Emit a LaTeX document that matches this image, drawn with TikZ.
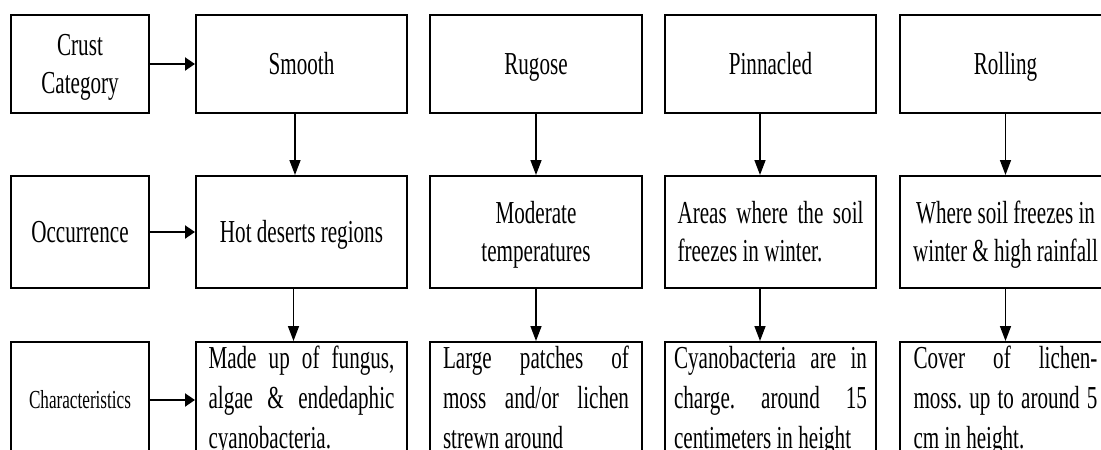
\documentclass[tikz,border=0pt]{standalone}
\usepackage{fontspec}
\setmainfont[FakeStretch=0.66]{Liberation Serif}
\usetikzlibrary{arrows.meta}
\frenchspacing
\newcommand\jl[2][186pt]{\makebox[#1][s]{#2}}
\newcommand\lastl[2][186pt]{\makebox[#1][l]{#2}}
\begin{document}
\begin{tikzpicture}[x=1pt,y=-1pt,
  box/.style={draw,line width=2pt,anchor=north west,inner sep=0pt,
    font=\fontsize{32}{38}\selectfont\frenchspacing,align=center},
  lab/.style={box,minimum width=138pt},
  cbox/.style={box,minimum width=211pt},
  one/.style={text height=21pt,text depth=0pt},
  two/.style={text height=59pt,text depth=0pt},
  jbox/.style={box,minimum width=211pt,align=left,inner ysep=5pt,
    font=\fontsize{32}{40}\selectfont\frenchspacing,text height=101.2pt,text depth=6pt},
  harrow/.style={line width=2pt,-{Triangle[length=10pt,width=13pt]}},
  varrow/.style={line width=1.5pt,-{Triangle[length=15pt,width=11pt]}}]
\useasboundingbox (0,0) rectangle (1101,450);
\clip (0,0) rectangle (1101,450);
\fill[white] (0,0) rectangle (1101,450);
% row 1
\node[lab,two,minimum height=98pt] (c1) at (10,14) {Crust\\Category};
\node[cbox,one,minimum height=98pt] (s1) at (195,14) {Smooth};
\node[cbox,one,minimum width=212pt,minimum height=98pt] (r1) at (429,14) {Rugose};
\node[cbox,one,minimum height=98pt] (p1) at (664,14) {Pinnacled};
\node[cbox,one,minimum height=98pt] (l1) at (899,14) {Rolling};
% row 2
\node[lab,one,minimum height=112pt] (c2) at (10,175) {Occurrence};
\node[cbox,one,minimum height=112pt] (s2) at (195,175) {Hot deserts regions};
\node[cbox,two,minimum width=212pt,minimum height=112pt] (r2) at (429,175) {Moderate\\temperatures};
\node[cbox,two,align=left,minimum height=112pt] (p2) at (664,175) {\jl{Areas where the soil}\\\lastl{freezes in winter.}};
\node[cbox,two,minimum height=112pt] (l2) at (899,175) {Where soil freezes in\\winter \& high rainfall};
% row 3
\node[lab,minimum height=116pt,font=\fontsize{26}{30}\selectfont,text height=17pt,text depth=0pt] (c3) at (10,341) {Characteristics};
\node[jbox] (s3) at (195,341) {\jl{Made up of fungus,}\\\jl{algae \& endedaphic}\\\lastl{cyanobacteria.}};
\node[jbox,minimum width=212pt] (r3) at (429,341) {\jl{Large patches of}\\\jl{moss and/or lichen}\\\lastl{strewn around}};
\node[jbox] (p3) at (664,341) {\jl[193pt]{Cyanobacteria are in}\\\jl[193pt]{charge. around 15}\\\lastl[193pt]{centimeters in height}};
\node[jbox] (l3) at (899,341) {\jl[184pt]{Cover of lichen-}\\\jl[184pt]{moss. up to around 5}\\\lastl[184pt]{cm in height.}};
% horizontal arrows
\draw[harrow] (c1.east) -- (s1.west);
\draw[harrow] (c2.east) -- (s2.west);
\draw[harrow] (c3.east) -- (c3.east -| s3.west);
% vertical arrows
\draw[varrow] ([xshift=-6.5pt]s1.south) -- ([xshift=-6.5pt]s2.north);
\draw[varrow] ([xshift=-8pt]s2.south) -- ([xshift=-8pt]s3.north);
\draw[varrow] (r1.south) -- (r2.north);
\draw[varrow] (r2.south) -- (r3.north);
\draw[varrow] ([xshift=-10.5pt]p1.south) -- ([xshift=-10.5pt]p2.north);
\draw[varrow] ([xshift=-10.5pt]p2.south) -- ([xshift=-10.5pt]p3.north);
\draw[varrow] (l1.south) -- (l2.north);
\draw[varrow] (l2.south) -- (l3.north);
\end{tikzpicture}
\end{document}
